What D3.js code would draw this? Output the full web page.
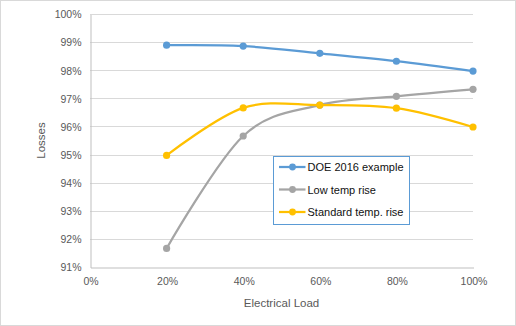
<!DOCTYPE html>
<html>
<head>
<meta charset="utf-8">
<script src="https://cdn.jsdelivr.net/npm/d3@7"></script>
<style>
  body { margin: 0; background: #fff; }
  svg text { font-family: "Liberation Sans", Arial, sans-serif; }
</style>
</head>
<body>
<div id="chart"></div>
<script>
// electrical load (fraction) and efficiency per series
var loads = [0.2, 0.4, 0.6, 0.8, 1.0];
var doe2016 = [0.9889, 0.9886, 0.9860, 0.9832, 0.9797];
var lowTempRise = [0.9166, 0.9566, 0.9676, 0.9707, 0.9732];
var standardTempRise = [0.9497, 0.9666, 0.9676, 0.9665, 0.9598];

var seriesNames = ["DOE 2016 example", "Low temp rise", "Standard temp. rise"];
var seriesColors = ["#5B9BD5", "#A5A5A5", "#FFC000"];
var xTicks = [0, 0.2, 0.4, 0.6, 0.8, 1.0];
var yTicks = [0.91, 0.92, 0.93, 0.94, 0.95, 0.96, 0.97, 0.98, 0.99, 1.0];

var W = 516, H = 326;
var svg = d3.select("#chart").append("svg")
    .attr("width", W)
    .attr("height", H);

// outer chart frame
svg.append("rect")
    .attr("x", 0.5).attr("y", 0.5)
    .attr("width", W - 1).attr("height", H - 1)
    .attr("fill", "#fff")
    .attr("stroke", "#D9D9D9");

var x = d3.scaleLinear().domain([0, 1]).range([90, 473]);
var y = d3.scaleLinear().domain([0.91, 1.0]).range([267, 14]);

var pct = d3.format(".0%");

// horizontal gridlines
svg.append("g").selectAll("line")
    .data(yTicks.slice(1))
    .enter().append("line")
    .attr("x1", x(0)).attr("x2", x(1))
    .attr("y1", function (d) { return Math.round(y(d)) + 0.5; })
    .attr("y2", function (d) { return Math.round(y(d)) + 0.5; })
    .attr("stroke", "#D9D9D9");

// y axis
var yAxis = svg.append("g")
    .attr("transform", "translate(" + (x(0) + 0.5) + ",0.5)")
    .call(d3.axisLeft(y).tickValues(yTicks).tickFormat(pct).tickSize(0).tickPadding(9));
yAxis.select(".domain").attr("stroke", "#BFBFBF");
yAxis.selectAll("text").attr("fill", "#595959").style("font-size", "10.5px");

// x axis
var xAxis = svg.append("g")
    .attr("transform", "translate(0.5," + (y(0.91) + 0.5) + ")")
    .call(d3.axisBottom(x).tickValues(xTicks).tickFormat(pct).tickSize(0).tickPadding(10));
xAxis.select(".domain").attr("stroke", "#BFBFBF");
xAxis.selectAll("text").attr("fill", "#595959").style("font-size", "10.5px");

// axis titles
svg.append("text")
    .attr("x", x(0.5)).attr("y", 307)
    .attr("text-anchor", "middle")
    .attr("fill", "#595959")
    .style("font-size", "11.5px")
    .text("Electrical Load");

svg.append("text")
    .attr("transform", "translate(45," + y(0.955) + ") rotate(-90)")
    .attr("text-anchor", "middle")
    .attr("fill", "#595959")
    .style("font-size", "11.5px")
    .text("Losses");

// smoothed series lines
var allSeries = [doe2016, lowTempRise, standardTempRise];
var line = d3.line()
    .x(function (d) { return x(d[0]); })
    .y(function (d) { return y(d[1]); })
    .curve(d3.curveCardinal.tension(0));

allSeries.forEach(function (vals, i) {
    var pts = loads.map(function (l, j) { return [l, vals[j]]; });
    var g = svg.append("g");
    g.append("path")
        .attr("d", line(pts))
        .attr("fill", "none")
        .attr("stroke", seriesColors[i])
        .attr("stroke-width", 2.25)
        .attr("stroke-linecap", "round");
    g.selectAll("circle")
        .data(pts)
        .enter().append("circle")
        .attr("cx", function (d) { return x(d[0]); })
        .attr("cy", function (d) { return y(d[1]); })
        .attr("r", 3.6)
        .attr("fill", seriesColors[i]);
});

// legend
var legend = svg.append("g").attr("transform", "translate(273.5,156.5)");
legend.append("rect")
    .attr("width", 136).attr("height", 68)
    .attr("fill", "#fff")
    .attr("stroke", "#5B9BD5");

seriesNames.forEach(function (name, i) {
    var cy = 10.5 + i * 22.5;
    legend.append("line")
        .attr("x1", 5.5).attr("x2", 32)
        .attr("y1", cy).attr("y2", cy)
        .attr("stroke", seriesColors[i])
        .attr("stroke-width", 2.25);
    legend.append("circle")
        .attr("cx", 19).attr("cy", cy)
        .attr("r", 3.4)
        .attr("fill", seriesColors[i]);
    legend.append("text")
        .attr("x", 34).attr("y", cy + 4)
        .attr("fill", "#111")
        .style("font-size", "11px")
        .text(name);
});
</script>
</body>
</html>
